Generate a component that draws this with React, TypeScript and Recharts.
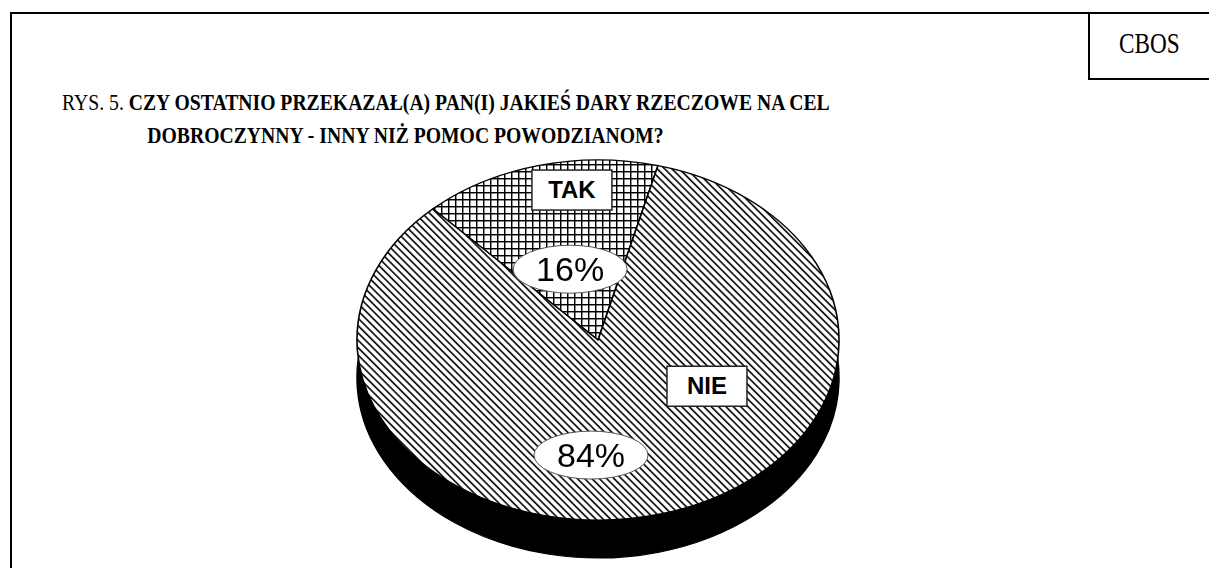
import React from "react";
import { PieChart, Pie, Cell } from "recharts";

const ANSWERS = ["TAK", "NIE"];
const SHARES = [16, 84];
const PCT_LABELS = ["16%", "84%"];

const data = ANSWERS.map((name, i) => ({ name, value: SHARES[i] }));

// pie is drawn as a circle, then squashed vertically into an ellipse
const SQUASH = 180 / 241;
const TOP = 150;
const CX = 598;
const R = 241;
const FACE_Y = (340 - TOP) / SQUASH;
const SIDE_Y = (378 - TOP) / SQUASH;
const START = 133.2;

const FILLS = ["url(#grid)", "url(#diag)"];

// where the name box and percent ellipse sit, relative to the slice middle
const SPOTS = [
  { nameDeg: -7, nameR: 0.84, pctDeg: 2, pctR: 0.41 },
  { nameDeg: 46, nameR: 0.52, pctDeg: -17, pctR: 0.64 },
];

const RAD = Math.PI / 180;

function polar(cx: number, cy: number, r: number, deg: number) {
  return { x: cx + r * Math.cos(-deg * RAD), y: cy + r * Math.sin(-deg * RAD) };
}

function SliceLabel(props: any) {
  const { cx, cy, midAngle, outerRadius, index } = props;
  const s = SPOTS[index];
  const n = polar(cx, cy, outerRadius * s.nameR, midAngle + s.nameDeg);
  const p = polar(cx, cy, outerRadius * s.pctR, midAngle + s.pctDeg);
  const unsquash = `scale(1, ${1 / SQUASH})`;
  return (
    <g>
      <g transform={`translate(${n.x}, ${n.y}) ${unsquash}`}>
        <rect x={-40} y={-20} width={80} height={40} fill="#fff" stroke="#222" strokeWidth={1.5} />
        <text
          x={0}
          y={8}
          textAnchor="middle"
          fontFamily="'Liberation Sans', Arial, sans-serif"
          fontWeight="bold"
          fontSize={24}
          fill="#000"
        >
          {ANSWERS[index]}
        </text>
      </g>
      <g transform={`translate(${p.x}, ${p.y}) ${unsquash}`}>
        <ellipse cx={0} cy={0} rx={57} ry={24} fill="#fff" stroke="#555" strokeWidth={1} />
        <text
          x={0}
          y={12}
          textAnchor="middle"
          fontFamily="'Liberation Sans', Arial, sans-serif"
          fontSize={34}
          fill="#000"
        >
          {PCT_LABELS[index]}
        </text>
      </g>
    </g>
  );
}

export default function App() {
  return (
    <div
      style={{
        position: "absolute",
        left: 0,
        top: 0,
        width: 1209,
        height: 568,
        overflow: "hidden",
        background: "#fff",
      }}
    >
      <svg width={0} height={0} style={{ position: "absolute" }}>
        <defs>
          <pattern
            id="diag"
            patternUnits="userSpaceOnUse"
            width={10}
            height={5.2}
            patternTransform={`scale(1, ${1 / SQUASH}) rotate(45)`}
          >
            <rect width={10} height={5.2} fill="#fff" />
            <line x1={0} y1={1} x2={10} y2={1} stroke="#000" strokeWidth={1.6} />
          </pattern>
          <pattern
            id="grid"
            patternUnits="userSpaceOnUse"
            width={7}
            height={7}
            patternTransform={`scale(1, ${1 / SQUASH})`}
          >
            <rect width={7} height={7} fill="#fff" />
            <line x1={0.7} y1={0} x2={0.7} y2={7} stroke="#000" strokeWidth={1.5} />
            <line x1={0} y1={0.7} x2={7} y2={0.7} stroke="#000" strokeWidth={1.5} />
          </pattern>
        </defs>
      </svg>

      {/* outer frame and CBOS box */}
      <div
        style={{
          position: "absolute",
          left: 10,
          top: 12,
          width: 1400,
          height: 800,
          border: "2px solid #000",
        }}
      />
      <div
        style={{
          position: "absolute",
          left: 1088,
          top: 12,
          width: 300,
          height: 64,
          border: "2px solid #000",
        }}
      />
      <div
        style={{
          position: "absolute",
          left: 1119,
          top: 27,
          fontFamily: "'Liberation Serif', 'Times New Roman', serif",
          fontSize: 29,
          transform: "scaleX(0.8)",
          transformOrigin: "left top",
          whiteSpace: "nowrap",
          lineHeight: "32px",
        }}
      >
        CBOS
      </div>

      {/* title */}
      <div
        style={{
          position: "absolute",
          left: 62,
          top: 86,
          fontFamily: "'Liberation Serif', 'Times New Roman', serif",
          fontSize: 24,
          lineHeight: "33px",
          whiteSpace: "nowrap",
          transform: "scaleX(0.82)",
          transformOrigin: "left top",
        }}
      >
        <div>
          RYS. 5. <b>CZY OSTATNIO PRZEKAZAŁ(A) PAN(I) JAKIEŚ DARY RZECZOWE NA CEL</b>
        </div>
        <div style={{ paddingLeft: 104 }}>
          <b>DOBROCZYNNY - INNY NIŻ POMOC POWODZIANOM?</b>
        </div>
      </div>

      {/* pie */}
      <div
        style={{
          position: "absolute",
          left: 0,
          top: TOP,
          width: 1209,
          height: 560,
          transform: `scaleY(${SQUASH})`,
          transformOrigin: "left top",
        }}
      >
        <PieChart width={1209} height={560} margin={{ top: 0, right: 0, bottom: 0, left: 0 }}>
          <Pie
            data={data}
            dataKey="value"
            nameKey="name"
            cx={CX}
            cy={SIDE_Y}
            outerRadius={R}
            startAngle={START}
            endAngle={START - 360}
            isAnimationActive={false}
            labelLine={false}
          >
            {data.map((d) => (
              <Cell key={d.name} fill="#000" stroke="#000" strokeWidth={1.5} />
            ))}
          </Pie>
          <Pie
            data={data}
            dataKey="value"
            nameKey="name"
            cx={CX}
            cy={FACE_Y}
            outerRadius={R}
            startAngle={START}
            endAngle={START - 360}
            isAnimationActive={false}
            labelLine={false}
            label={SliceLabel}
          >
            {data.map((d, i) => (
              <Cell key={d.name} fill={FILLS[i]} stroke="#000" strokeWidth={1.6} />
            ))}
          </Pie>
        </PieChart>
      </div>
    </div>
  );
}
